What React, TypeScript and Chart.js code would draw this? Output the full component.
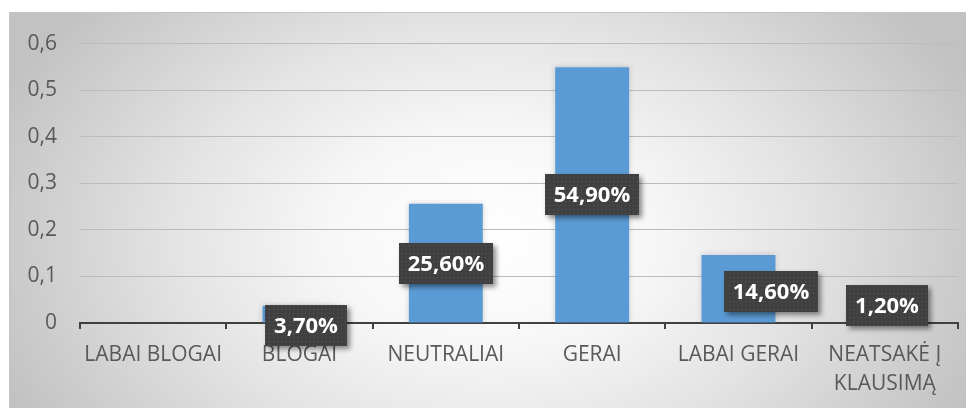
import React, { useEffect, useRef } from "react";
import { Chart, registerables } from "chart.js";

Chart.register(...registerables);

// ---- data ----
const categories: (string | string[])[] = [
  "LABAI BLOGAI",
  "BLOGAI",
  "NEUTRALIAI",
  "GERAI",
  "LABAI GERAI",
  ["NEATSAKĖ Į", "KLAUSIMĄ"],
];
const shares: number[] = [0, 0.037, 0.256, 0.549, 0.146, 0.012];
const yMin = 0;
const yMax = 0.6;
const yStep = 0.1;

// ---- style ----
const labelOffsets: [number, number][] = [
  [0, 0],
  [6, 11],
  [0, 0],
  [0, 0],
  [32, 3],
  [2, -14],
];
const FONT = "'Open Sans', 'Noto Sans', sans-serif";
const TEXT = "#595959";
const BAR = "#5B9BD5";

function fmtPct(v: number): string {
  return (v * 100).toFixed(2).replace(".", ",") + "%";
}

function makeDotPattern(ctx: CanvasRenderingContext2D): CanvasPattern | string {
  const c = document.createElement("canvas");
  c.width = 4;
  c.height = 4;
  const p = c.getContext("2d");
  if (!p) return "#404040";
  p.fillStyle = "#404040";
  p.fillRect(0, 0, 4, 4);
  p.fillStyle = "#585858";
  p.fillRect(1, 1, 1, 1);
  return ctx.createPattern(c, "repeat") || "#404040";
}

const backgroundPlugin = {
  id: "bgPanel",
  beforeDraw(chart: any) {
    const ctx: CanvasRenderingContext2D = chart.ctx;
    const w = chart.width;
    const h = chart.height;
    ctx.save();
    ctx.fillStyle = "#ffffff";
    ctx.fillRect(0, 0, w, h);
    const x0 = 1;
    const y0 = 4;
    const cx = 482;
    const cy = 230;
    const rx = 530;
    const ry = 360;
    ctx.save();
    ctx.beginPath();
    ctx.rect(x0, y0, w - x0, h - y0);
    ctx.clip();
    ctx.translate(cx, cy);
    ctx.scale(1, ry / rx);
    const g = ctx.createRadialGradient(0, 0, 0, 0, 0, rx);
    g.addColorStop(0, "#ffffff");
    g.addColorStop(0.3, "#f7f7f7");
    g.addColorStop(0.6, "#e3e3e3");
    g.addColorStop(0.88, "#cccccc");
    g.addColorStop(1, "#c2c2c2");
    ctx.fillStyle = g;
    ctx.fillRect(-cx - 10, -cy * (rx / ry) - 2000, w + 2000, 5000);
    ctx.restore();
    ctx.strokeStyle = "#c4c4c4";
    ctx.lineWidth = 1;
    ctx.beginPath();
    ctx.moveTo(x0 + 0.5, h);
    ctx.lineTo(x0 + 0.5, y0 + 0.5);
    ctx.lineTo(w, y0 + 0.5);
    ctx.stroke();
    ctx.restore();
  },
};

const barLabelPlugin = {
  id: "barLabels",
  beforeDatasetsDraw(chart: any) {
    const ctx: CanvasRenderingContext2D = chart.ctx;
    ctx.save();
    ctx.shadowColor = "rgba(0,0,0,0.18)";
    ctx.shadowBlur = 6;
  },
  afterDatasetsDraw(chart: any) {
    const ctx: CanvasRenderingContext2D = chart.ctx;
    ctx.restore();
    const meta = chart.getDatasetMeta(0);
    const pattern = makeDotPattern(ctx);
    ctx.save();
    ctx.font = `bold 22px ${FONT}`;
    meta.data.forEach((bar: any, i: number) => {
      const v = shares[i];
      if (!v) return;
      const text = fmtPct(v);
      const [dx, dy] = labelOffsets[i];
      const cx = bar.x + dx;
      const cy = (bar.y + bar.base) / 2 + dy;
      const tw = ctx.measureText(text).width;
      const bw = Math.round(tw + 18);
      const bh = 41;
      const left = Math.round(cx - bw / 2);
      const top = Math.round(cy - bh / 2);
      ctx.save();
      ctx.shadowColor = "rgba(0,0,0,0.45)";
      ctx.shadowBlur = 5;
      ctx.shadowOffsetX = 3;
      ctx.shadowOffsetY = 3;
      ctx.fillStyle = "#404040";
      ctx.fillRect(left, top, bw, bh);
      ctx.restore();
      ctx.fillStyle = pattern as any;
      ctx.fillRect(left, top, bw, bh);
      ctx.fillStyle = "#ffffff";
      ctx.textAlign = "center";
      ctx.textBaseline = "middle";
      ctx.fillText(text, left + bw / 2, top + bh / 2 + 1);
    });
    ctx.restore();
  },
};

export default function App() {
  const canvasRef = useRef<HTMLCanvasElement | null>(null);

  useEffect(() => {
    const canvas = canvasRef.current;
    if (!canvas) return;
    const chart = new Chart(canvas, {
      type: "bar",
      data: {
        labels: categories as any,
        datasets: [
          {
            data: shares,
            backgroundColor: BAR,
            borderWidth: 0,
            barPercentage: 0.505,
            categoryPercentage: 1,
          },
        ],
      },
      options: {
        responsive: false,
        animation: false,
        devicePixelRatio: 1,
        layout: { padding: { top: 33, right: 16, left: 0, bottom: 0 } },
        plugins: {
          legend: { display: false },
          tooltip: { enabled: false },
          title: { display: false },
        },
        scales: {
          x: {
            offset: true,
            grid: {
              offset: true,
              drawOnChartArea: false,
              drawTicks: true,
              tickLength: 6,
              color: "#404040",
              lineWidth: 2,
            },
            border: { display: true, color: "#404040", width: 2 },
            ticks: {
              color: TEXT,
              font: { family: FONT, size: 21, lineHeight: 1.35 },
              padding: 12,
              autoSkip: false,
              maxRotation: 0,
              minRotation: 0,
            },
            afterFit: (s: any) => {
              s.height = 85;
            },
          },
          y: {
            min: yMin,
            max: yMax,
            grid: {
              drawTicks: false,
              color: "#bcbcbc",
              lineWidth: 1,
            },
            border: { display: false },
            ticks: {
              stepSize: yStep,
              color: TEXT,
              font: { family: FONT, size: 21 },
              padding: 23,
              callback: (v: any) =>
                Number(v) === 0 ? "0" : Number(v).toFixed(1).replace(".", ","),
            },
            afterFit: (s: any) => {
              s.width = 72;
            },
          },
        },
      },
      plugins: [backgroundPlugin, barLabelPlugin],
    });
    return () => chart.destroy();
  }, []);

  return (
    <div style={{ width: 966, height: 400 }}>
      <canvas
        ref={canvasRef}
        width={966}
        height={400}
        style={{ display: "block", width: 966, height: 400 }}
      />
    </div>
  );
}
